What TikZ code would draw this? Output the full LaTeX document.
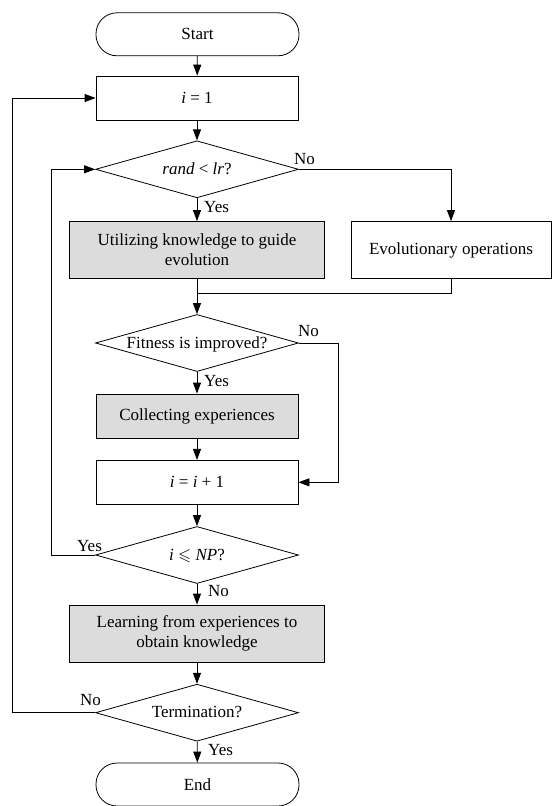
\documentclass[tikz,border=0pt]{standalone}
\usepackage{fontspec}
\setmainfont{Liberation Serif}
\usepackage{amssymb}
\usetikzlibrary{arrows.meta,shapes.geometric}
\definecolor{boxgray}{RGB}{220,220,220}
\begin{document}
\begin{tikzpicture}[x=1pt,y=-1pt,
  every node/.style={font=\fontsize{17}{20}\selectfont},
  line/.style={draw=black, line width=0.8pt},
  arr/.style={line, -{Triangle[length=11pt,width=8pt]}},
  term/.style={draw, line width=0.8pt, rounded corners=21pt, minimum width=203pt, minimum height=43pt, inner sep=0pt},
  proc/.style={draw, line width=0.8pt, minimum width=202pt, minimum height=44pt, inner sep=0pt, align=center},
  wide/.style={proc, minimum width=255pt, minimum height=57pt, fill=boxgray},
  dec/.style={draw, line width=0.8pt, shape=diamond, aspect=3.54, minimum width=203pt, minimum height=57pt, inner sep=0pt, text height=10pt, text depth=0pt},
  lab/.style={inner sep=0pt}
]
\useasboundingbox (0,0) rectangle (552,806);
% nodes
\node[term] (start) at (197.5,34.3) {Start};
\node[proc] (init) at (197,98) {\textit{i} = 1};
\node[dec] (d1) at (197,169.3) {\textit{rand} < \textit{lr}?};
\node[wide] (util) at (197,250) {Utilizing knowledge to guide\\evolution};
\node[proc, minimum width=200pt, minimum height=57pt] (evo) at (451,250) {Evolutionary operations};
\node[dec] (d2) at (197,343) {Fitness is improved?};
\node[proc, fill=boxgray] (coll) at (197,416) {Collecting experiences};
\node[proc] (inc) at (197,482.3) {\textit{i} = \textit{i} + 1};
\node[dec] (d3) at (197,555) {\textit{i} $\leqslant$ \textit{NP}?};
\node[wide] (learn) at (197,633.5) {Learning from experiences to\\obtain knowledge};
\node[dec] (d4) at (197,712.7) {Termination?};
\node[term] (end) at (197.5,784.5) {End};
% helper coordinates
\coordinate (m) at (197,293);
\coordinate (r2) at (338.3,343);
\coordinate (l1) at (51,555);
\coordinate (l2) at (12.5,712.7);
% connectors
\draw[arr] (start) -- (init);
\draw[arr] (init) -- (d1);
\draw[arr] (d1) -- (util);
\draw[arr] (d1.east) -| (evo.north);
\draw[arr] (util) -- (d2);
\draw[line] (evo.south) |- (m);
\draw[arr] (d2) -- (coll);
\draw[arr] (coll) -- (inc);
\draw[arr] (d2.east) -- (r2) |- (inc.east);
\draw[arr] (inc) -- (d3);
\draw[arr] (d3) -- (learn);
\draw[arr] (learn) -- (d4);
\draw[arr] (d4) -- (end);
\draw[arr] (d3.west) -- (l1) |- (d1.west);
\draw[arr] (d4.west) -- (l2) |- (init.west);
% labels
\node[lab, anchor=south west] (n1) at ([xshift=-5pt,yshift=4pt]d1.east) {No};
\node[lab, anchor=north west] (y1) at ([xshift=7pt,yshift=-3pt]d1.south) {Yes};
\node[lab, anchor=south west] (n2) at ([xshift=-1pt,yshift=6pt]d2.east) {No};
\node[lab, anchor=north west] (y2) at ([xshift=7pt,yshift=-3pt]d2.south) {Yes};
\node[lab, anchor=south east] (y3) at ([xshift=7pt,yshift=3pt]d3.west) {Yes};
\node[lab, anchor=north west] (n3) at ([xshift=11pt,yshift=-1pt]d3.south) {No};
\node[lab, anchor=south east] (n4) at ([xshift=6pt,yshift=7pt]d4.west) {No};
\node[lab, anchor=north west] (y4) at ([xshift=11pt,yshift=-3pt]d4.south) {Yes};
\end{tikzpicture}
\end{document}
